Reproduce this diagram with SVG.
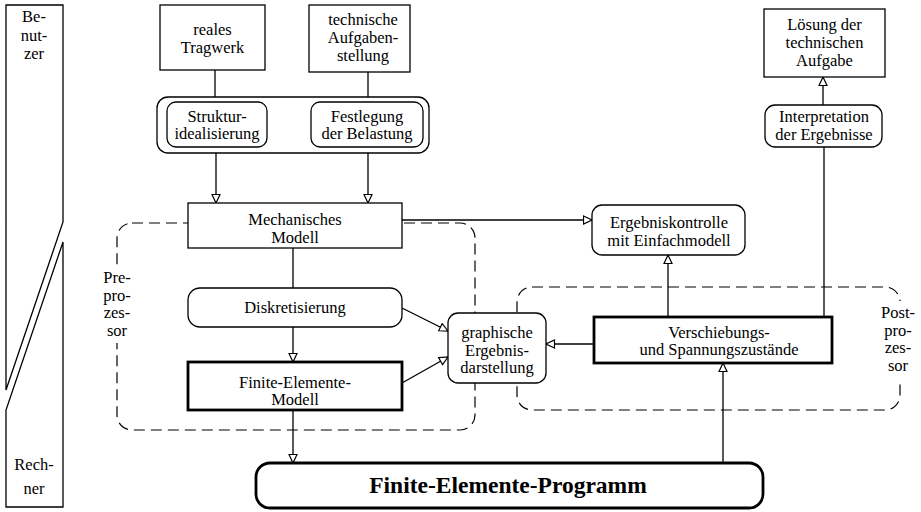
<svg xmlns="http://www.w3.org/2000/svg" width="921" height="512" viewBox="0 0 921 512">
<defs>
<style>
text{font-family:"Liberation Serif","Times New Roman",serif;font-size:16.5px;text-anchor:middle;fill:#000}
.box{fill:#fff;stroke:#000;stroke-width:1.3}
.bold{fill:#fff;stroke:#000;stroke-width:2.8}
.grp{fill:none;stroke:#000;stroke-width:1.2;stroke-dasharray:11 6}
.ln{fill:none;stroke:#000;stroke-width:1.3}
.lbl{fill:#fff;stroke:none}
</style>
<marker id="ah" viewBox="0 0 10 10" refX="9.5" refY="5" markerWidth="10" markerHeight="10" markerUnits="userSpaceOnUse" orient="auto">
<path d="M1,1 L9.5,5 L1,9 Z" fill="#fff" stroke="#000" stroke-width="1.2"/>
</marker>
</defs>
<rect width="921" height="512" fill="#fff"/>

<g id="benutzer">
<polygon class="box" points="6,5 63,5 63,222 6,390"/>
<text x="34" y="22">Be-</text>
<text x="34" y="41">nut-</text>
<text x="34" y="59">zer</text>
</g>
<g id="rechner">
<polygon class="box" points="63,242 63,507 6,507 6,410"/>
<text x="34" y="470">Rech-</text>
<text x="34" y="494">ner</text>
</g>

<g id="praeprozessor">
<rect class="grp" x="117" y="223" width="358" height="207" rx="15"/>
<rect class="lbl" x="100" y="266" width="34" height="77"/>
<text x="117" y="283">Pre-</text>
<text x="117" y="300.5">pro-</text>
<text x="117" y="318">zes-</text>
<text x="117" y="335.5">sor</text>
</g>
<g id="postprozessor">
<rect class="grp" x="517" y="287" width="383" height="123" rx="15"/>
<rect class="lbl" x="882" y="301" width="36" height="82"/>
<text x="898" y="318">Post-</text>
<text x="898" y="335.5">pro-</text>
<text x="898" y="353">zes-</text>
<text x="898" y="370.5">sor</text>
</g>

<g id="connectors">
<line class="ln" x1="215" y1="70" x2="215" y2="97"/>
<line class="ln" x1="368" y1="72" x2="368" y2="97"/>
<line class="ln" x1="216" y1="153" x2="216" y2="203" marker-end="url(#ah)"/>
<line class="ln" x1="368" y1="153" x2="368" y2="203" marker-end="url(#ah)"/>
<line class="ln" x1="402" y1="220" x2="592" y2="220" marker-end="url(#ah)"/>
<line class="ln" x1="293" y1="248" x2="293" y2="288"/>
<line class="ln" x1="293" y1="327" x2="293" y2="362" marker-end="url(#ah)"/>
<line class="ln" x1="293" y1="410" x2="293" y2="463" marker-end="url(#ah)"/>
<line class="ln" x1="402" y1="308" x2="448" y2="331" marker-end="url(#ah)"/>
<line class="ln" x1="402" y1="383" x2="448" y2="357" marker-end="url(#ah)"/>
<line class="ln" x1="594" y1="344" x2="546" y2="344" marker-end="url(#ah)"/>
<line class="ln" x1="668" y1="317" x2="668" y2="255" marker-end="url(#ah)"/>
<line class="ln" x1="723" y1="463" x2="723" y2="363" marker-end="url(#ah)"/>
<line class="ln" x1="824" y1="317" x2="824" y2="147"/>
<line class="ln" x1="823" y1="105" x2="823" y2="77" marker-end="url(#ah)"/>
</g>

<g id="reales-tragwerk">
<rect class="box" x="160" y="5" width="105" height="65"/>
<text x="212.5" y="35">reales</text>
<text x="212.5" y="53">Tragwerk</text>
</g>
<g id="technische-aufgabenstellung">
<rect class="box" x="309" y="5" width="101" height="67"/>
<text x="363" y="25">technische</text>
<text x="363" y="43">Aufgaben-</text>
<text x="363" y="61">stellung</text>
</g>
<g id="idealisierung">
<rect class="box" x="157" y="97" width="272" height="56" rx="11"/>
<g id="strukturidealisierung">
<rect class="box" x="167" y="102" width="100" height="45" rx="9"/>
<text x="217" y="121.5">Struktur-</text>
<text x="217" y="139">idealisierung</text>
</g>
<g id="festlegung">
<rect class="box" x="311" y="102" width="112" height="45" rx="9"/>
<text x="367" y="121.5">Festlegung</text>
<text x="367" y="139">der Belastung</text>
</g>
</g>
<g id="mechanisches-modell">
<rect class="box" x="188" y="203" width="214" height="45"/>
<text x="295" y="225">Mechanisches</text>
<text x="295" y="242.5">Modell</text>
</g>
<g id="diskretisierung">
<rect class="box" x="188" y="288" width="214" height="39" rx="12"/>
<text x="295" y="313">Diskretisierung</text>
</g>
<g id="fe-modell">
<rect class="bold" x="188" y="362" width="214" height="48"/>
<text x="295" y="387.5">Finite-Elemente-</text>
<text x="295" y="405">Modell</text>
</g>
<g id="graphische-darstellung">
<rect class="box" x="448" y="313" width="98" height="70" rx="10"/>
<text x="497" y="338">graphische</text>
<text x="497" y="355.5">Ergebnis-</text>
<text x="497" y="373">darstellung</text>
</g>
<g id="ergebniskontrolle">
<rect class="box" x="592" y="205" width="153" height="50" rx="10"/>
<text x="669" y="228">Ergebniskontrolle</text>
<text x="669" y="245.5">mit Einfachmodell</text>
</g>
<g id="verschiebungen">
<rect class="bold" x="594" y="317" width="238" height="46"/>
<text x="719" y="337.5">Verschiebungs-</text>
<text x="719" y="355">und Spannungszustände</text>
</g>
<g id="interpretation">
<rect class="box" x="765" y="105" width="117" height="42" rx="10"/>
<text x="824" y="122">Interpretation</text>
<text x="824" y="139.5">der Ergebnisse</text>
</g>
<g id="loesung">
<rect class="box" x="764" y="9" width="121" height="68"/>
<text x="824.5" y="30">Lösung der</text>
<text x="824.5" y="48">technischen</text>
<text x="824.5" y="66">Aufgabe</text>
</g>
<g id="fe-programm">
<rect class="bold" x="256" y="463" width="507" height="45" rx="14"/>
<text x="508" y="493" style="font-size:23.5px;font-weight:bold">Finite-Elemente-Programm</text>
</g>
</svg>
